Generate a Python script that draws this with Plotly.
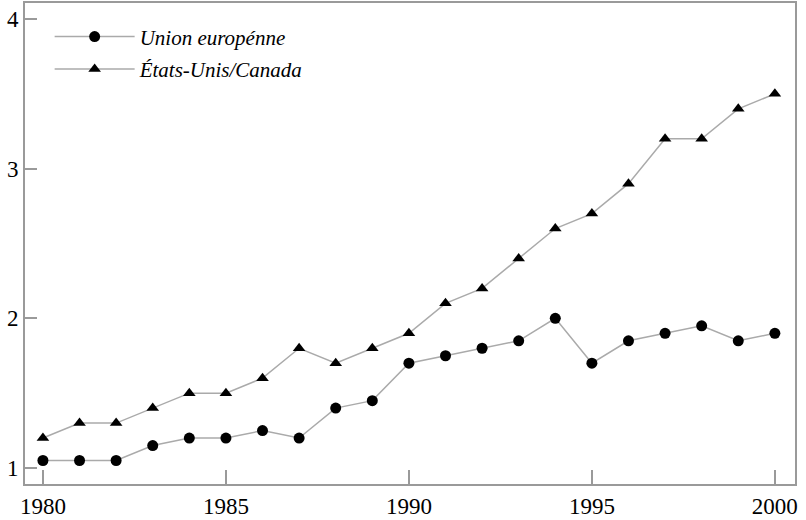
import plotly.graph_objects as go

years = list(range(1980, 2001))
ue = [1.05, 1.05, 1.05, 1.15, 1.2, 1.2, 1.25, 1.2, 1.4, 1.45, 1.7, 1.75, 1.8, 1.85, 2.0, 1.7, 1.85, 1.9, 1.95, 1.85, 1.9]
usca = [1.2, 1.3, 1.3, 1.4, 1.5, 1.5, 1.6, 1.8, 1.7, 1.8, 1.9, 2.1, 2.2, 2.4, 2.6, 2.7, 2.9, 3.2, 3.2, 3.4, 3.5]
series_names = ["Union europénne", "États-Unis/Canada"]
x_ticks = [1980, 1985, 1990, 1995, 2000]
y_ticks = [1, 2, 3, 4]

line_col = "#aaaaaa"
axis_col = "#9a9a9a"
font_fam = "Liberation Serif, Times New Roman, serif"

fig = go.Figure()
fig.add_trace(go.Scatter(x=years, y=ue, name=series_names[0], mode="lines+markers",
                         legendgroup="a",
                         line=dict(color=line_col, width=1.5),
                         marker=dict(symbol="circle", size=11, color="black")))
fig.add_trace(go.Scatter(x=years, y=usca, name=series_names[1], mode="lines+markers",
                         legendgroup="b",
                         line=dict(color=line_col, width=1.5),
                         marker=dict(symbol="triangle-up", size=11, color="black")))

axis_common = dict(showgrid=False, zeroline=False, showline=True, linecolor=axis_col, linewidth=2,
                   mirror=True, ticks="inside", tickcolor=axis_col, tickwidth=1.5,
                   automargin=False,
                   tickfont=dict(family=font_fam, size=23, color="black"))
fig.update_xaxes(range=[1979.51, 2000.55], tickvals=x_ticks, ticklen=14, **axis_common)
fig.update_yaxes(range=[0.893, 4.107], tickvals=y_ticks, ticklen=12, **axis_common)

fig.update_layout(
    width=806, height=520,
    margin=dict(l=25, r=11, t=3, b=36),
    plot_bgcolor="white", paper_bgcolor="white",
    showlegend=True,
    legend=dict(x=0.032, y=0.972, xanchor="left", yanchor="top", bgcolor="rgba(0,0,0,0)",
                font=dict(family=font_fam, size=21, color="black", style="italic"),
                itemwidth=80,
                traceorder="grouped", tracegroupgap=2),
)
fig.write_html("out.html", config={"displayModeBar": False},
               post_script="document.body.style.margin='0';document.body.style.overflow='hidden';")
